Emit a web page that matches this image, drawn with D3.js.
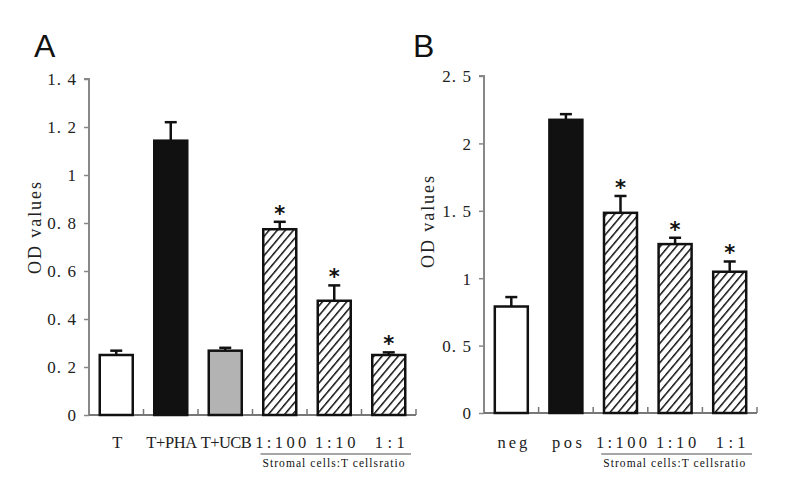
<!DOCTYPE html>
<html><head><meta charset="utf-8">
<script src="https://cdn.jsdelivr.net/npm/d3@7"></script>
<style>body{margin:0;background:#fff}svg{display:block}</style>
</head><body>
<svg id="c" width="792" height="480"></svg>
<script>
// Panel A data
const catsA = ["T", "T+PHA", "T+UCB", "1:100", "1:10", "1:1"];
const valsA = [0.25, 1.143, 0.268, 0.774, 0.476, 0.25];
const errA  = [0.018, 0.077, 0.012, 0.031, 0.064, 0.011];
const fillsA = ["white", "black", "gray", "hatch", "hatch", "hatch"];
const starsA = [false, false, false, true, true, true];
const ticksA = [0, 0.2, 0.4, 0.6, 0.8, 1, 1.2, 1.4];
const tickLabelsA = ["0", "0. 2", "0. 4", "0. 6", "0. 8", "1", "1. 2", "1. 4"];

// Panel B data
const catsB = ["neg", "pos", "1:100", "1:10", "1:1"];
const valsB = [0.79, 2.175, 1.485, 1.253, 1.048];
const errB  = [0.07, 0.042, 0.125, 0.047, 0.076];
const fillsB = ["white", "black", "hatch", "hatch", "hatch"];
const starsB = [false, false, true, true, true];
const ticksB = [0, 0.5, 1, 1.5, 2, 2.5];
const tickLabelsB = ["0", "0. 5", "1", "1. 5", "2", "2. 5"];

const svg = d3.select("#c");
const serif = "'Liberation Serif', 'DejaVu Serif', serif";
const defs = svg.append("defs");
const pat = defs.append("pattern").attr("id", "hatch").attr("patternUnits", "userSpaceOnUse")
  .attr("width", 6.2).attr("height", 6.2).attr("patternTransform", "rotate(40)");
pat.append("rect").attr("width", 6.2).attr("height", 6.2).attr("fill", "white");
pat.append("line").attr("x1", 0).attr("y1", -1).attr("x2", 0).attr("y2", 8)
  .attr("stroke", "#111").attr("stroke-width", 3);

const fillMap = {white: "white", black: "#111", gray: "#b3b3b3", hatch: "url(#hatch)"};

function panel(o) {
  const g = svg.append("g");
  const x = d3.scaleBand().domain(o.cats).range([o.x0, o.x1]).paddingInner(0).paddingOuter(0);
  const y = d3.scaleLinear().domain([0, o.ymax]).range([o.y0, o.y1]);
  // y axis
  const ya = d3.axisLeft(y).tickValues(o.ticks).tickSize(5).tickPadding(8)
    .tickFormat((d, i) => o.tickLabels[i]);
  const yg = g.append("g").attr("transform", `translate(${o.x0},0)`).call(ya);
  yg.select(".domain").attr("stroke", "#888").attr("stroke-width", 2).attr("d", `M-5,${y(o.ymax)}H0V${o.y0}`);
  yg.selectAll(".tick line").attr("stroke", "#888").attr("stroke-width", 1.5);
  yg.selectAll(".tick text").attr("font-family", serif).attr("font-size", 17).attr("fill", "#222")
    .attr("dy", "0.35em")
    .each(function() {
      const t = d3.select(this).text();
      if (t.length > 1) d3.select(this).attr("textLength", 7.2 * t.length).attr("lengthAdjust", "spacing");
    });
  // x axis line and inner ticks
  g.append("line").attr("x1", o.x0).attr("x2", o.x1).attr("y1", o.y0).attr("y2", o.y0)
    .attr("stroke", "#777").attr("stroke-width", 2);
  const bounds = o.cats.slice(1).map(c => x(c)).concat([o.x1]);
  g.selectAll(".xt").data(bounds).join("line")
    .attr("x1", d => d).attr("x2", d => d).attr("y1", o.y0).attr("y2", o.y0 - 6)
    .attr("stroke", "#777").attr("stroke-width", 1.5);
  const bw = 33;
  const cx = c => x(c) + x.bandwidth() / 2;
  // error bars
  o.cats.forEach((c, i) => {
    const top = y(o.vals[i] + o.err[i]);
    g.append("line").attr("x1", cx(c)).attr("x2", cx(c)).attr("y1", y(o.vals[i])).attr("y2", top)
      .attr("stroke", "#111").attr("stroke-width", 2.5);
    g.append("line").attr("x1", cx(c) - 6).attr("x2", cx(c) + 6).attr("y1", top).attr("y2", top)
      .attr("stroke", "#111").attr("stroke-width", 2.5);
    if (o.stars[i]) {
      g.append("text").attr("x", cx(c)).attr("y", top - 1).attr("text-anchor", "middle")
        .attr("font-family", "'DejaVu Sans', sans-serif").attr("font-size", 21).attr("font-weight", "bold")
        .attr("fill", "#111").text("*");
    }
  });
  // bars
  g.selectAll(".bar").data(o.cats).join("rect")
    .attr("x", c => cx(c) - bw / 2).attr("width", bw)
    .attr("y", (c, i) => y(o.vals[i])).attr("height", (c, i) => o.y0 - y(o.vals[i]))
    .attr("fill", (c, i) => fillMap[o.fills[i]])
    .attr("stroke", "#111").attr("stroke-width", 2.5);
  // x labels
  g.selectAll(".xl").data(o.cats).join("text")
    .attr("x", c => cx(c) + 1).attr("y", 448).attr("text-anchor", "middle")
    .attr("font-family", serif).attr("font-size", 16.5).attr("fill", "#222")
    .attr("textLength", c => c.length === 1 ? null : 10.6 * c.length - 2)
    .attr("lengthAdjust", "spacing")
    .text(c => c);
  // group underline
  const first = o.cats[o.groupStart];
  const ux0 = x(first) + 8, ux1 = o.x1 - 5;
  g.append("line").attr("x1", ux0).attr("x2", ux1).attr("y1", 454).attr("y2", 454)
    .attr("stroke", "#888").attr("stroke-width", 1.5);
  g.append("text").attr("x", ux0 + 2).attr("y", 467)
    .attr("font-family", serif).attr("font-size", 11.5).attr("fill", "#111")
    .attr("textLength", 142).attr("lengthAdjust", "spacing")
    .text("Stromal cells:T cellsratio");
  // y label
  g.append("text").attr("transform", `translate(${o.labelX},${o.labelY}) rotate(-90)`)
    .attr("text-anchor", "middle").attr("font-family", serif).attr("font-size", 18).attr("fill", "#222")
    .attr("textLength", 92).attr("lengthAdjust", "spacing")
    .text("OD values");
  // panel letter
  g.append("text").attr("x", o.letterX).attr("y", 57)
    .attr("font-family", "'Liberation Sans', Arial, sans-serif").attr("font-size", 32).attr("fill", "#111")
    .text(o.letter);
}

panel({cats: catsA, vals: valsA, err: errA, fills: fillsA, stars: starsA, ticks: ticksA, tickLabels: tickLabelsA,
  ymax: 1.4, x0: 89, x1: 416, y0: 415, y1: 79, groupStart: 3, labelX: 41, labelY: 228, letter: "A", letterX: 34});
panel({cats: catsB, vals: valsB, err: errB, fills: fillsB, stars: starsB, ticks: ticksB, tickLabels: tickLabelsB,
  ymax: 2.5, x0: 484, x1: 757, y0: 413, y1: 76, groupStart: 2, labelX: 434, labelY: 222, letter: "B", letterX: 413});
</script>
</body></html>
